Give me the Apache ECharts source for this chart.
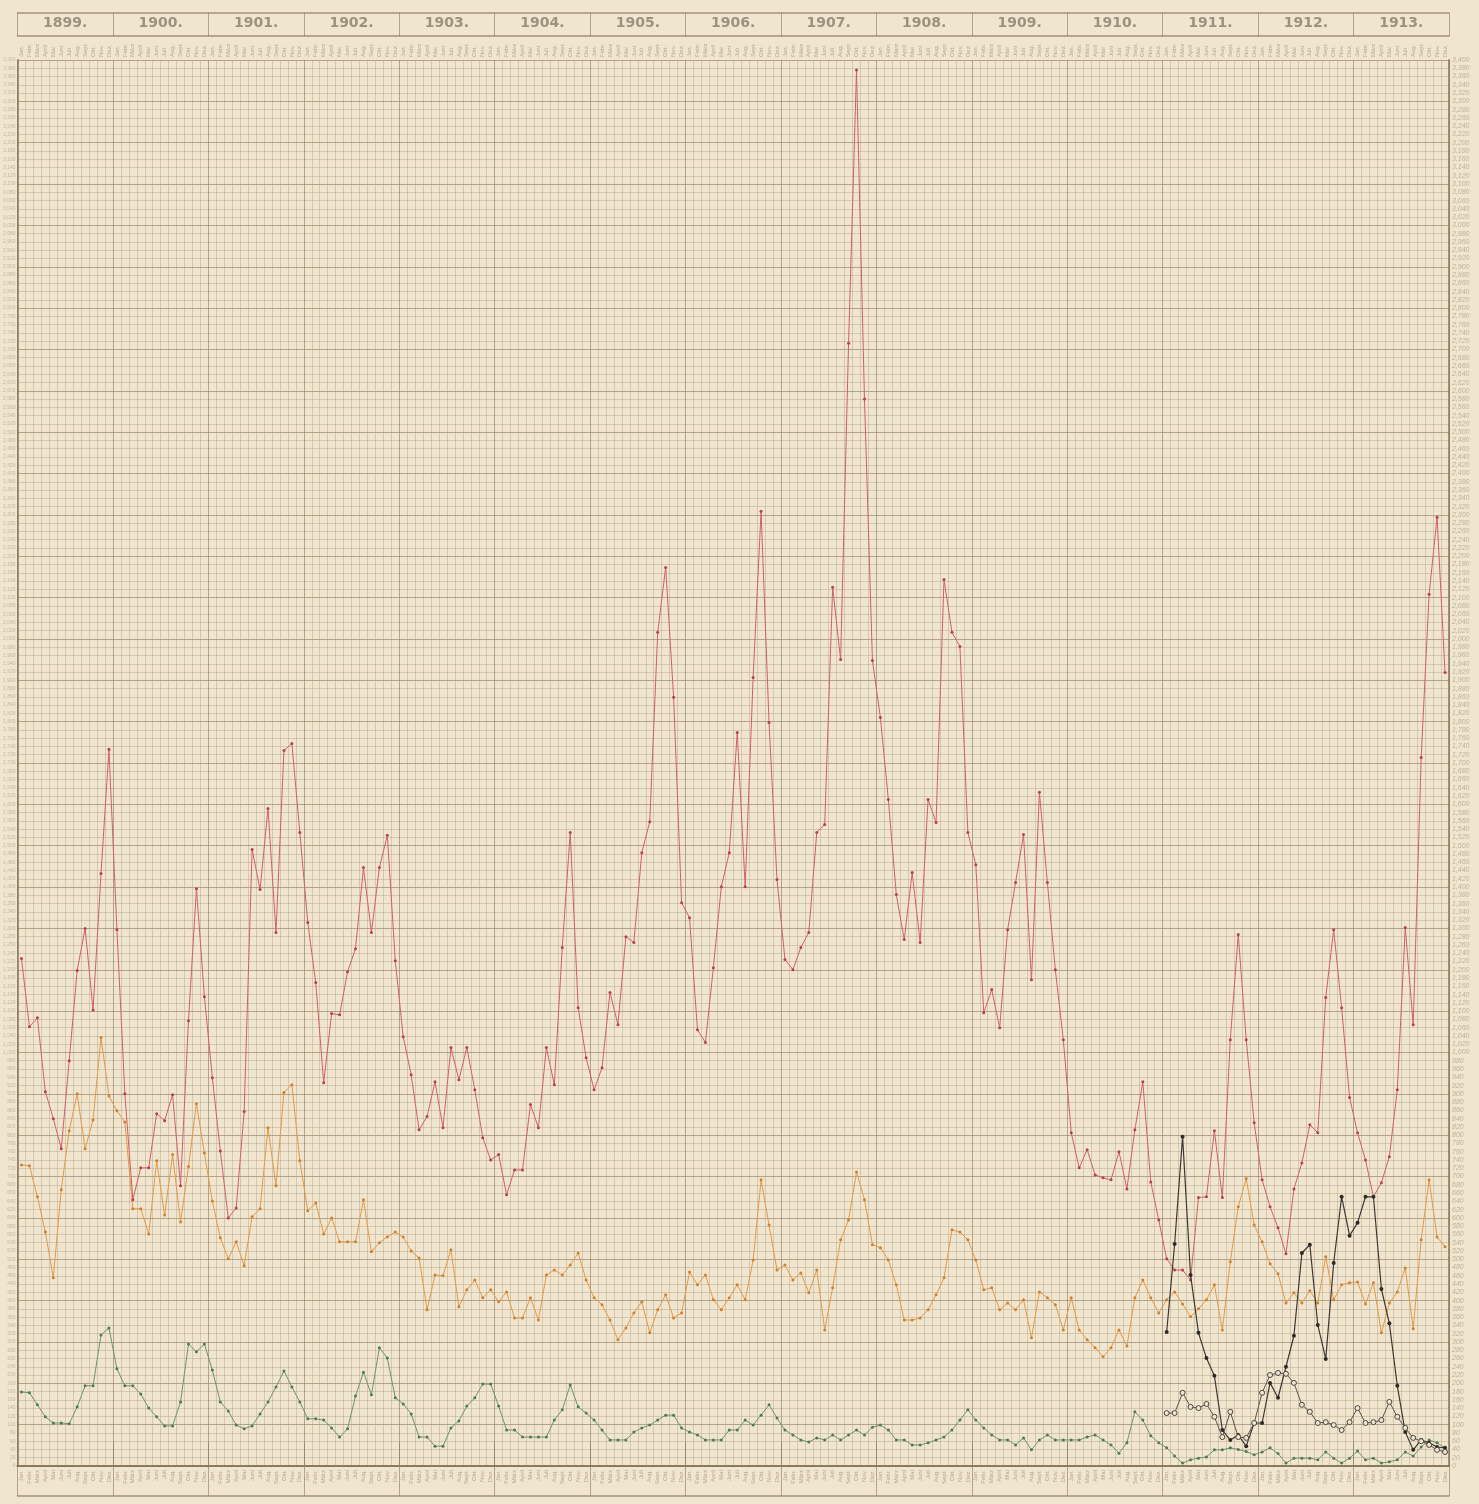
<!DOCTYPE html>
<html>
<head>
<meta charset="utf-8">
<title>1899 - 1913</title>
<script src="https://cdn.jsdelivr.net/npm/echarts@6/dist/echarts.min.js"></script>
<style>
  html, body { margin: 0; padding: 0; background: #f0e5cf; }
  #chart { width: 1479px; height: 1504px; }
</style>
</head>
<body>
<div id="chart"></div>
<script>
const years = ['1899', '1900', '1901', '1902', '1903', '1904', '1905', '1906', '1907', '1908', '1909', '1910', '1911', '1912', '1913']
const monthNames = ['Jan.', 'Febr.', 'März', 'April', 'Mai', 'Juni', 'Juli', 'Aug.', 'Sept.', 'Okt.', 'Nov.', 'Dez.']

// monthly values, Jan 1899 .. Dec 1913
const red = [
  1227, 1062, 1084, 905, 840, 767, 980, 1198, 1300, 1103, 1433, 1733,
  1297, 900, 644, 721, 721, 852, 835, 898, 678, 1077, 1396, 1135,
  939, 762, 600, 624, 857, 1491, 1394, 1590, 1290, 1730, 1747, 1532,
  1314, 1169, 927, 1094, 1091, 1195, 1251, 1447, 1290, 1447, 1525, 1222,
  1038, 946, 813, 845, 929, 818, 1012, 934, 1012, 910, 794, 740,
  753, 656, 716, 716, 874, 818, 1012, 922, 1254, 1532, 1108, 987,
  910, 963, 1145, 1067, 1280, 1266, 1483, 1558, 2016, 2173, 1859, 1362,
  1326, 1055, 1024, 1205, 1401, 1483, 1774, 1401, 1907, 2309, 1798, 1418,
  1225, 1200, 1254, 1290, 1532, 1551, 2125, 1950, 2715, 3376, 2580, 1948,
  1810, 1612, 1382, 1273, 1435, 1266, 1612, 1556, 2144, 2016, 1982, 1532,
  1454, 1096, 1152, 1060, 1297, 1411, 1527, 1176, 1629, 1411, 1200, 1031,
  806, 721, 765, 704, 697, 692, 760, 670, 813, 929, 687, 595,
  501, 474, 474, 450, 649, 651, 811, 649, 1031, 1285, 1031, 830,
  692, 627, 576, 513, 670, 733, 825, 806, 1133, 1297, 1108, 891,
  806, 740, 651, 685, 748, 910, 1302, 1067, 1713, 2108, 2294, 1919
]
const orange = [
  728, 726, 651, 566, 455, 668, 811, 900, 767, 837, 1036, 895,
  859, 832, 622, 622, 561, 738, 607, 753, 590, 724, 876, 757,
  641, 552, 501, 542, 484, 603, 622, 818, 678, 903, 922, 738,
  617, 636, 561, 600, 542, 542, 542, 644, 518, 540, 554, 566,
  554, 520, 503, 378, 462, 460, 523, 385, 426, 450, 407, 426,
  397, 421, 358, 358, 407, 353, 462, 474, 462, 486, 515, 450,
  407, 390, 353, 305, 334, 370, 397, 322, 378, 414, 358, 370,
  469, 438, 462, 402, 378, 407, 438, 402, 498, 692, 583, 474,
  486, 450, 467, 419, 474, 329, 431, 547, 595, 711, 644, 535,
  528, 498, 438, 353, 353, 358, 378, 414, 455, 571, 566, 547,
  498, 426, 431, 378, 394, 378, 402, 310, 421, 407, 390, 329,
  407, 329, 305, 286, 264, 286, 329, 290, 407, 450, 407, 370,
  402, 421, 392, 361, 380, 402, 438, 329, 494, 627, 695, 583,
  542, 489, 465, 394, 419, 394, 424, 394, 506, 402, 438, 443,
  445, 392, 443, 322, 394, 421, 479, 332, 547, 692, 554, 530
]
const green = [
  179, 177, 148, 119, 104, 104, 102, 143, 194, 194, 317, 334,
  235, 194, 194, 174, 140, 119, 97, 97, 155, 295, 276, 295,
  232, 155, 133, 99, 90, 97, 126, 155, 191, 230, 191, 155,
  114, 114, 111, 92, 70, 90, 169, 227, 172, 286, 261, 165,
  150, 126, 70, 70, 48, 48, 92, 109, 145, 165, 198, 198,
  145, 87, 87, 70, 70, 70, 70, 111, 136, 196, 143, 128,
  111, 87, 63, 63, 63, 82, 92, 99, 111, 123, 123, 92,
  82, 75, 63, 63, 63, 87, 87, 111, 99, 123, 148, 116,
  87, 75, 63, 58, 68, 63, 75, 63, 75, 87, 75, 94,
  99, 87, 63, 63, 51, 51, 56, 63, 70, 87, 111, 136,
  111, 92, 75, 63, 63, 51, 68, 39, 63, 75, 63, 63,
  63, 63, 70, 75, 63, 51, 31, 56, 131, 111, 73, 56,
  44, 24, 7, 15, 19, 22, 39, 39, 44, 40, 35, 27,
  34, 44, 30, 7, 19, 19, 19, 15, 34, 19, 7, 19,
  36, 15, 19, 7, 10, 15, 34, 24, 46, 63, 56, 44
]
// black lines only from Jan 1911
const blackDots = [
  324, 537, 796, 462, 322, 261, 218, 87, 63, 75, 48, 104,
  104, 201, 165, 240, 315, 515, 535, 341, 259, 491, 651, 557,
  588, 651, 651, 428, 345, 194, 82, 39, 63, 56, 46, 44
]
const blackRings = [
  128, 128, 177, 143, 140, 150, 119, 70, 131, 70, 68, 104,
  177, 220, 225, 223, 201, 148, 131, 104, 106, 99, 87, 106,
  140, 104, 106, 111, 155, 119, 92, 68, 60, 51, 39, 34
]

const months = []
years.forEach(y => monthNames.forEach((m, i) => months.push(y + '-' + (i + 1))))
const blackStart = months.indexOf('1911-1')
const pad = (arr) => new Array(blackStart).fill(null).concat(arr)

const paper = '#f0e5cf'
const major = 'rgba(140,122,94,0.62)'
const minor = 'rgba(170,150,118,0.36)'
const frame = 'rgba(135,118,90,0.75)'
const labelGrey = '#b3a78f'

const monthLabel = v => monthNames[+v.split('-')[1] - 1]
const yearTick = (i) => i % 12 === 0

const chart = echarts.init(document.getElementById('chart'))

chart.setOption({
  backgroundColor: paper,
  animation: false,
  grid: { left: 16, right: 30, top: 60, bottom: 38 },
  xAxis: [{
    type: 'category',
    data: months,
    position: 'bottom',
    boundaryGap: true,
    axisLine: { show: true, lineStyle: { color: frame, width: 2 } },
    axisTick: { show: true, interval: yearTick, length: 30, lineStyle: { color: major } },
    axisLabel: { interval: 0, rotate: 90, fontSize: 6, color: labelGrey, margin: 4, formatter: monthLabel },
    splitLine: {
      show: true,
      interval: 0,
      lineStyle: { width: 1, color: [major, minor, minor, minor, minor, minor, minor, minor, minor, minor, minor, minor] }
    }
  }, {
    type: 'category',
    data: months,
    position: 'top',
    boundaryGap: true,
    axisLine: { show: true, lineStyle: { color: frame, width: 2 } },
    axisTick: { show: true, interval: yearTick, length: 24, lineStyle: { color: major } },
    axisLabel: { interval: 0, rotate: 90, fontSize: 6, color: labelGrey, margin: 3, formatter: monthLabel },
    splitLine: { show: false }
  }, {
    type: 'category',
    data: years,
    position: 'top',
    offset: 24,
    boundaryGap: true,
    axisLine: { show: true, lineStyle: { color: frame, width: 1.5 } },
    axisTick: { show: true, interval: 0, length: 23, lineStyle: { color: major } },
    axisLabel: {
      fontSize: 14, fontWeight: 'bold', color: '#9c927f', margin: 6,
      fontFamily: 'DejaVu Sans', formatter: v => v + '.'
    },
    splitLine: { show: false }
  }, {
    type: 'category',
    data: years,
    position: 'top',
    offset: 47,
    axisLine: { show: true, lineStyle: { color: frame, width: 1.5 } },
    axisTick: { show: false },
    axisLabel: { show: false }
  }, {
    type: 'category',
    data: years,
    position: 'bottom',
    offset: 30,
    axisLine: { show: true, lineStyle: { color: frame, width: 1.5 } },
    axisTick: { show: false },
    axisLabel: { show: false }
  }],
  yAxis: [{
    type: 'value',
    position: 'left',
    min: 0,
    max: 3400,
    interval: 20,
    axisLine: { show: true, lineStyle: { color: frame, width: 2 } },
    axisTick: { show: false },
    axisLabel: { fontSize: 5, color: '#c4b9a2', margin: 2 },
    splitLine: { show: true, lineStyle: { width: 1, color: [major, minor, minor, minor, minor] } }
  }, {
    type: 'value',
    position: 'right',
    min: 0,
    max: 3400,
    interval: 20,
    axisLine: { show: true, lineStyle: { color: frame, width: 2 } },
    axisTick: { show: false },
    axisLabel: { fontSize: 7, fontStyle: 'italic', color: '#bdb29b', margin: 3 },
    splitLine: { show: false }
  }],
  series: [{
    name: 'red',
    type: 'line',
    data: red,
    symbol: 'circle',
    symbolSize: 3,
    lineStyle: { color: '#d0606b', width: 1 },
    itemStyle: { color: '#b9414f' },
    z: 5
  }, {
    name: 'orange',
    type: 'line',
    data: orange,
    symbol: 'circle',
    symbolSize: 3,
    lineStyle: { color: '#e39a48', width: 1 },
    itemStyle: { color: '#d0812e' },
    z: 4
  }, {
    name: 'green',
    type: 'line',
    data: green,
    symbol: 'circle',
    symbolSize: 3,
    lineStyle: { color: '#6e9470', width: 1 },
    itemStyle: { color: '#4f7a52' },
    z: 3
  }, {
    name: 'black',
    type: 'line',
    data: pad(blackDots),
    symbol: 'circle',
    symbolSize: 4,
    lineStyle: { color: '#3d3833', width: 1.2 },
    itemStyle: { color: '#2e2a26' },
    z: 6
  }, {
    name: 'black rings',
    type: 'line',
    data: pad(blackRings),
    symbol: 'circle',
    symbolSize: 5,
    lineStyle: { color: '#5a544c', width: 1 },
    itemStyle: { color: paper, borderColor: '#4a4540', borderWidth: 1 },
    z: 6
  }]
})
</script>
</body>
</html>
